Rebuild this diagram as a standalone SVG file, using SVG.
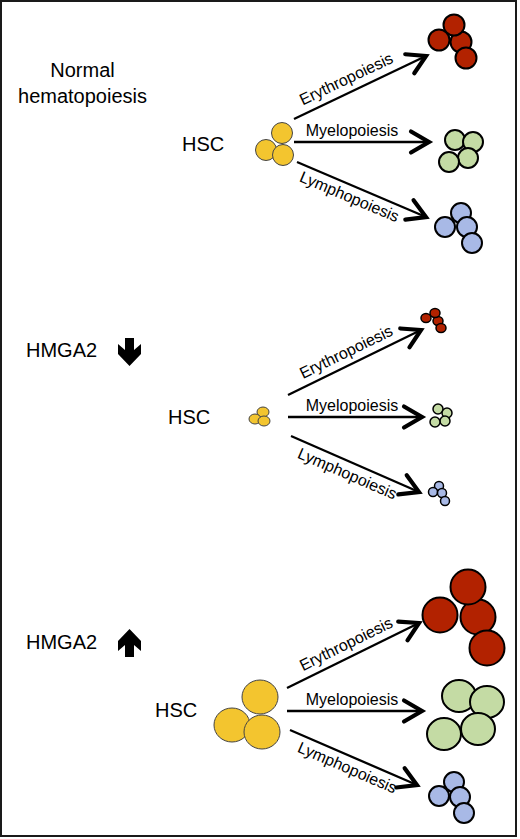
<svg xmlns="http://www.w3.org/2000/svg" width="520" height="839" viewBox="0 0 520 839">
<defs>
<marker id="ah" markerUnits="userSpaceOnUse" markerWidth="30" markerHeight="30" viewBox="-16 -10 20 20" refX="0" refY="0" orient="auto" overflow="visible">
<path d="M-12,-7 L0,0 L-12,7" fill="none" stroke="#000" stroke-width="2.8" stroke-linecap="round" stroke-linejoin="miter"/>
</marker>
</defs>
<style>
text{font-family:"Liberation Sans",Arial,sans-serif;fill:#000}
.big{font-size:20px}
.lab{font-size:16px}
.conn line{stroke:#000;stroke-width:2.3;marker-end:url(#ah)}
.red{fill:#b22200;stroke:#000;stroke-width:2}
.grn{fill:#c4dba4;stroke:#000;stroke-width:2}
.blu{fill:#a8b9e6;stroke:#000;stroke-width:2}
.yel{fill:#f3c52f;stroke:#444;stroke-width:1}
.sm{stroke-width:1.5}
</style>
<rect x="1" y="1" width="515" height="835" fill="#fff" stroke="#1a1a1a" stroke-width="2"/>

<!-- Section 1 -->
<g id="title-normal">
<text class="big" x="82.5" y="77" text-anchor="middle">Normal</text>
<text class="big" x="82.5" y="103" text-anchor="middle">hematopoiesis</text>
</g>
<g id="hsc1">
<text class="big" x="182" y="151">HSC</text>
<circle class="yel" cx="282" cy="133" r="10.5"/>
<circle class="yel" cx="266" cy="150" r="10.5"/>
<circle class="yel" cx="283" cy="155" r="10.5"/>
</g>
<g id="ery1">
<circle class="red" cx="439" cy="40" r="10.5"/>
<circle class="red" cx="461" cy="42" r="10.5"/>
<circle class="red" cx="454" cy="25" r="10.5"/>
<circle class="red" cx="466" cy="58" r="10.5"/>
</g>
<g id="mye1">
<circle class="grn" cx="455" cy="140" r="10"/>
<circle class="grn" cx="473" cy="142" r="10"/>
<circle class="grn" cx="468" cy="158" r="10"/>
<circle class="grn" cx="449" cy="162" r="10"/>
</g>
<g id="lym1">
<circle class="blu" cx="461" cy="213" r="10"/>
<circle class="blu" cx="445" cy="227" r="10"/>
<circle class="blu" cx="467" cy="227" r="10"/>
<circle class="blu" cx="472" cy="243" r="10"/>
</g>

<!-- Section 2 -->
<g id="title-down">
<text class="big" x="26" y="357">HMGA2</text>
<polygon points="125,338 134,338 134,350 141,344 141,354 129.5,366 118,354 118,344 125,350" fill="#000"/>
</g>
<g id="hsc2">
<text class="big" x="168" y="424">HSC</text>
<ellipse class="yel" cx="263" cy="412" rx="6" ry="5"/>
<ellipse class="yel" cx="255" cy="419" rx="6" ry="5"/>
<ellipse class="yel" cx="264" cy="421" rx="6" ry="5"/>
</g>
<g id="ery2">
<ellipse class="red sm" cx="426" cy="318" rx="5" ry="4.5"/>
<ellipse class="red sm" cx="438" cy="321" rx="5" ry="4.5"/>
<ellipse class="red sm" cx="435" cy="313" rx="5" ry="4.5"/>
<ellipse class="red sm" cx="441" cy="328" rx="5" ry="4.5"/>
</g>
<g id="mye2">
<circle class="grn sm" cx="438" cy="409" r="5"/>
<circle class="grn sm" cx="447" cy="413" r="5"/>
<circle class="grn sm" cx="445" cy="421" r="5"/>
<circle class="grn sm" cx="435" cy="422" r="5"/>
</g>
<g id="lym2">
<circle class="blu sm" cx="439" cy="486" r="4.5"/>
<circle class="blu sm" cx="433" cy="492" r="4.5"/>
<circle class="blu sm" cx="442" cy="493" r="4.5"/>
<circle class="blu sm" cx="445" cy="501" r="4.5"/>
</g>

<!-- Section 3 -->
<g id="title-up">
<text class="big" x="26" y="649">HMGA2</text>
<polygon points="129.5,629 141,641 141,651 134,645 134,657 125,657 125,645 118,651 118,641" fill="#000"/>
</g>
<g id="hsc3">
<text class="big" x="155" y="717">HSC</text>
<ellipse class="yel" cx="260" cy="697" rx="18" ry="17"/>
<ellipse class="yel" cx="232" cy="725" rx="18" ry="17"/>
<ellipse class="yel" cx="262" cy="732" rx="18" ry="17"/>
</g>
<g id="ery3">
<circle class="red" cx="440" cy="615" r="17.5"/>
<circle class="red" cx="478" cy="617" r="17.5"/>
<circle class="red" cx="468" cy="587" r="17.5"/>
<circle class="red" cx="487" cy="648" r="17.5"/>
</g>
<g id="mye3">
<ellipse class="grn" cx="459" cy="696" rx="17" ry="16"/>
<ellipse class="grn" cx="487" cy="702" rx="17" ry="16"/>
<ellipse class="grn" cx="478" cy="729" rx="17" ry="16"/>
<ellipse class="grn" cx="444" cy="734" rx="17" ry="16"/>
</g>
<g id="lym3">
<circle class="blu" cx="454" cy="782" r="10"/>
<circle class="blu" cx="439" cy="796" r="10"/>
<circle class="blu" cx="460" cy="797" r="10"/>
<circle class="blu" cx="464" cy="813" r="10"/>
</g>

<!-- Connectors -->
<g id="connectors" class="conn">
<line x1="294" y1="119" x2="426" y2="56"/>
<line x1="294" y1="142" x2="429" y2="142"/>
<line x1="297" y1="162" x2="426" y2="217"/>
<line x1="288" y1="395" x2="421" y2="330"/>
<line x1="288" y1="417" x2="422" y2="417"/>
<line x1="291" y1="436" x2="419" y2="492"/>
<line x1="287" y1="688" x2="419" y2="623"/>
<line x1="287" y1="711" x2="422" y2="711"/>
<line x1="290" y1="730" x2="417" y2="785"/>
</g>

<g id="labels">
<text class="lab" text-anchor="middle" transform="translate(352,91) rotate(-25.5)" y="-8">Erythropoiesis</text>
<text class="lab" text-anchor="middle" x="352" y="136">Myelopoiesis</text>
<text class="lab" text-anchor="middle" transform="translate(354,186) rotate(23)" y="17">Lymphopoiesis</text>
<text class="lab" text-anchor="middle" transform="translate(352,364) rotate(-26)" y="-8">Erythropoiesis</text>
<text class="lab" text-anchor="middle" x="352" y="411">Myelopoiesis</text>
<text class="lab" text-anchor="middle" transform="translate(352,463) rotate(23.5)" y="17">Lymphopoiesis</text>
<text class="lab" text-anchor="middle" transform="translate(352,656) rotate(-26.2)" y="-8">Erythropoiesis</text>
<text class="lab" text-anchor="middle" x="352" y="705">Myelopoiesis</text>
<text class="lab" text-anchor="middle" transform="translate(352,757) rotate(23.4)" y="17">Lymphopoiesis</text>
</g>
</svg>
